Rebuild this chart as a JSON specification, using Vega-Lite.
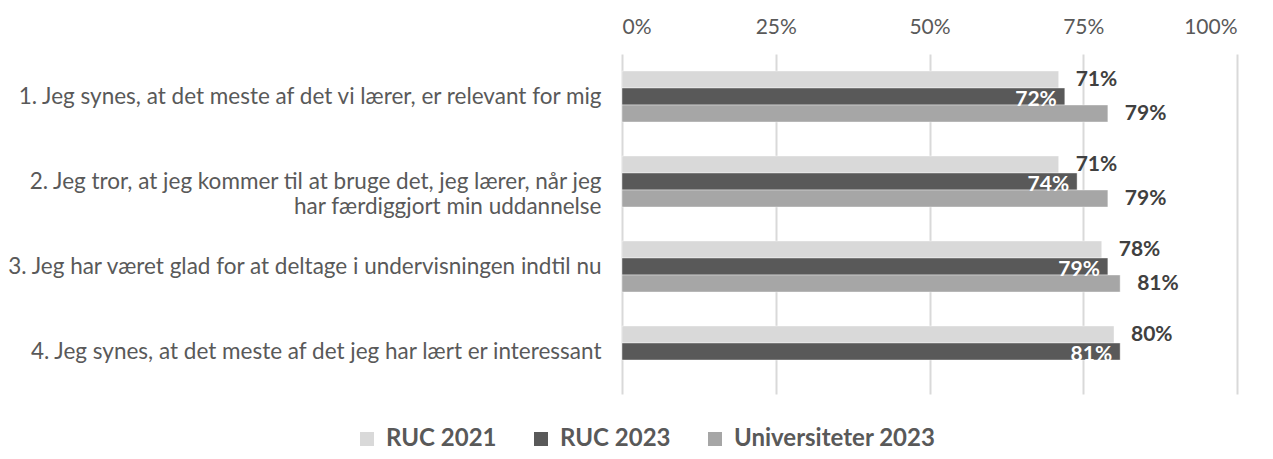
{
  "$schema": "https://vega.github.io/schema/vega-lite/v6.json",
  "autosize": "none",
  "width": 615,
  "height": 340,
  "padding": {"left": 622, "top": 54, "right": 36, "bottom": 65},
  "background": "white",
  "config": {"font": "Lato", "view": {"stroke": null}},
  "data": {"values": [
    {"q": "1. Jeg synes, at det meste af det vi lærer, er relevant for mig", "s": "RUC 2021", "v": 0.71},
    {"q": "1. Jeg synes, at det meste af det vi lærer, er relevant for mig", "s": "RUC 2023", "v": 0.72},
    {"q": "1. Jeg synes, at det meste af det vi lærer, er relevant for mig", "s": "Universiteter 2023", "v": 0.79},
    {"q": "2. Jeg tror, at jeg kommer til at bruge det, jeg lærer, når jeg|har færdiggjort min uddannelse", "s": "RUC 2021", "v": 0.71},
    {"q": "2. Jeg tror, at jeg kommer til at bruge det, jeg lærer, når jeg|har færdiggjort min uddannelse", "s": "RUC 2023", "v": 0.74},
    {"q": "2. Jeg tror, at jeg kommer til at bruge det, jeg lærer, når jeg|har færdiggjort min uddannelse", "s": "Universiteter 2023", "v": 0.79},
    {"q": "3. Jeg har været glad for at deltage i undervisningen indtil nu", "s": "RUC 2021", "v": 0.78},
    {"q": "3. Jeg har været glad for at deltage i undervisningen indtil nu", "s": "RUC 2023", "v": 0.79},
    {"q": "3. Jeg har været glad for at deltage i undervisningen indtil nu", "s": "Universiteter 2023", "v": 0.81},
    {"q": "4. Jeg synes, at det meste af det jeg har lært er interessant", "s": "RUC 2021", "v": 0.80},
    {"q": "4. Jeg synes, at det meste af det jeg har lært er interessant", "s": "RUC 2023", "v": 0.81}
  ]},
  "encoding": {
    "y": {"field": "q", "type": "nominal", "sort": null, "title": null,
      "scale": {"paddingInner": 0, "paddingOuter": 0},
      "axis": {"domain": false, "ticks": false, "labelAlign": "right", "labelPadding": 21, "labelFontSize": 22.5, "labelColor": "#595959", "labelLimit": 700, "labelLineHeight": 25, "labelExpr": "split(datum.label, '|')"}},
    "yOffset": {"field": "s", "type": "nominal", "scale": {"domain": ["RUC 2021", "RUC 2023", "Universiteter 2023"], "paddingInner": 0, "paddingOuter": 1}},
    "x": {"field": "v", "type": "quantitative", "title": null,
      "scale": {"domain": [0, 1], "nice": false},
      "axis": {"orient": "top", "values": [0, 0.25, 0.5, 0.75, 1], "format": ".0%", "domain": false, "ticks": false, "labelPadding": 17, "labelFontSize": 21, "labelColor": "#595959", "gridColor": "#D9D9D9", "gridWidth": 2}}
  },
  "layer": [
    {"mark": {"type": "bar", "stroke": "white", "strokeOpacity": 0.4, "strokeWidth": 1},
     "encoding": {"color": {"field": "s", "type": "nominal", "title": null,
        "scale": {"domain": ["RUC 2021", "RUC 2023", "Universiteter 2023"], "range": ["#D9D9D9", "#595959", "#A6A6A6"]},
        "legend": {"orient": "none", "direction": "horizontal", "legendX": -267, "legendY": 373, "symbolType": "square", "symbolSize": 196, "symbolStrokeWidth": 0, "labelFontSize": 24, "labelFontWeight": "bold", "labelColor": "#595959", "labelLimit": 400, "columnPadding": 32, "labelOffset": 7}}}},
    {"transform": [{"filter": "datum.s != 'RUC 2023'"}],
     "mark": {"type": "text", "align": "left", "baseline": "middle", "dx": 17, "fontSize": 21, "fontWeight": "bold", "color": "#404040"},
     "encoding": {"text": {"field": "v", "type": "quantitative", "format": ".0%"}}},
    {"transform": [{"filter": "datum.s == 'RUC 2023'"}],
     "mark": {"type": "text", "align": "right", "baseline": "middle", "dx": -8, "dy": 3, "fontSize": 21, "fontWeight": "bold", "color": "white"},
     "encoding": {"text": {"field": "v", "type": "quantitative", "format": ".0%"}}}
  ]
}
